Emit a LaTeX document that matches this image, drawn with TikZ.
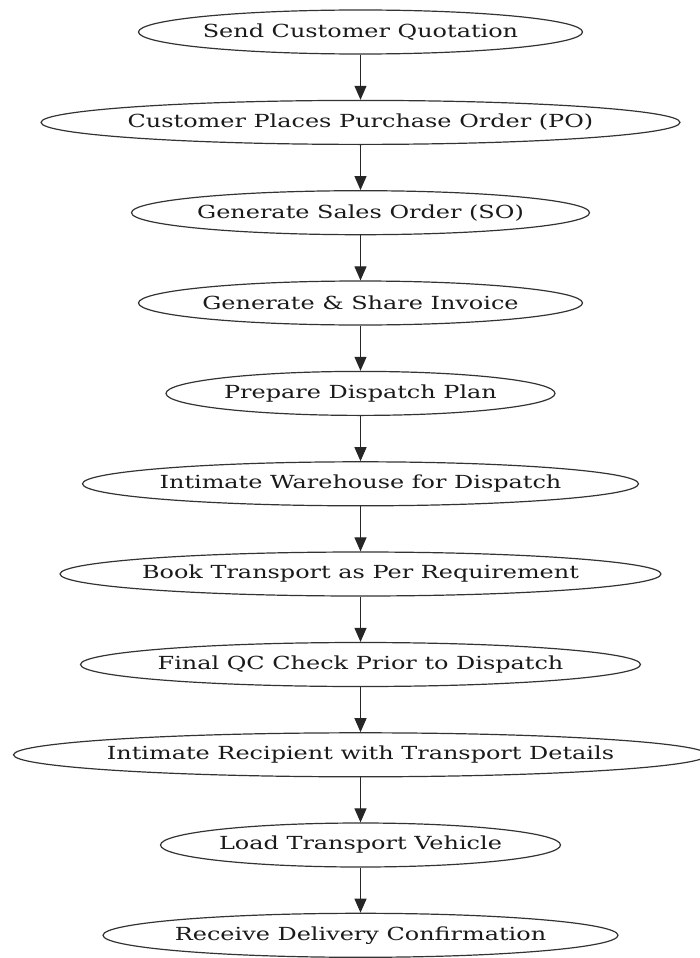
\documentclass[tikz,border=0pt]{standalone}
\usepackage{fontspec}
\setmainfont[FakeStretch=1.33]{DejaVu Serif}
\usetikzlibrary{shapes.geometric,arrows.meta}
\definecolor{edgecol}{HTML}{333333}
\definecolor{txtcol}{HTML}{1A1A1A}
\tikzset{
  stage/.style={draw=edgecol, line width=1.2pt, ellipse, inner sep=0pt,
    minimum height=44pt, text=txtcol,
    font=\fontsize{18}{22}\selectfont},
  flowarrow/.style={draw=black!85, line width=1.1pt,
    -{Triangle[length=14pt,width=12pt]}}
}
\newcommand{\stagetext}[1]{\makebox[0pt]{#1}}
\begin{document}
\begin{tikzpicture}[x=1pt,y=-1pt]
\useasboundingbox (0,0) rectangle (699,958);
\node[stage, minimum width=444pt] (s1) at (360.5,32) {\stagetext{Send Customer Quotation}};
\node[stage, minimum width=639pt] (s2) at (360.5,122.4) {\stagetext{Customer Places Purchase Order (PO)}};
\node[stage, minimum width=458pt] (s3) at (360.5,212.7) {\stagetext{Generate Sales Order (SO)}};
\node[stage, minimum width=444pt] (s4) at (360.5,303) {\stagetext{Generate \& Share Invoice}};
\node[stage, minimum width=389pt] (s5) at (360.5,393.4) {\stagetext{Prepare Dispatch Plan}};
\node[stage, minimum width=556pt] (s6) at (360.5,483.8) {\stagetext{Intimate Warehouse for Dispatch}};
\node[stage, minimum width=601pt] (s7) at (360.5,574) {\stagetext{Book Transport as Per Requirement}};
\node[stage, minimum width=560pt] (s8) at (360.5,664.5) {\stagetext{Final QC Check Prior to Dispatch}};
\node[stage, minimum width=694pt] (s9) at (360.5,754.8) {\stagetext{Intimate Recipient with Transport Details}};
\node[stage, minimum width=400pt] (s10) at (360.5,845) {\stagetext{Load Transport Vehicle}};
\node[stage, minimum width=515pt] (s11) at (360.5,935.3) {\stagetext{Receive Delivery Confirmation}};
\foreach \a/\b in {s1/s2,s2/s3,s3/s4,s4/s5,s5/s6,s6/s7,s7/s8,s8/s9,s9/s10,s10/s11}
  \draw[flowarrow] (\a.south) -- (\b.north);
\end{tikzpicture}
\end{document}
